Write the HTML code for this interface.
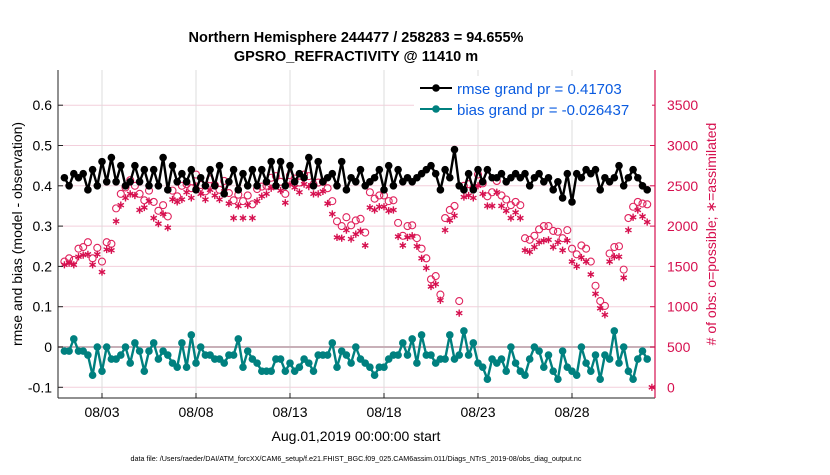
<!DOCTYPE html>
<html><head><meta charset="utf-8">
<style>
body{margin:0;background:#fff;width:830px;height:470px;overflow:hidden;font-family:"Liberation Sans",sans-serif;}
svg text{font-family:"Liberation Sans",sans-serif;}
</style></head>
<body>
<svg id="chart" width="830" height="470" xmlns="http://www.w3.org/2000/svg">
<text x="356" y="42" text-anchor="middle" font-size="14.5" font-weight="bold">Northern Hemisphere 244477 / 258283 = 94.655%</text>
<text x="356" y="61" text-anchor="middle" font-size="14.5" font-weight="bold">GPSRO_REFRACTIVITY @ 11410 m</text>
<g id="grid"></g>
<g id="marks"></g>
<g id="axes"></g>
<text transform="translate(22,234) rotate(-90)" text-anchor="middle" font-size="14">rmse and bias (model - observation)</text>
<text transform="translate(716,234) rotate(-90)" text-anchor="middle" font-size="14" fill="#d6104f"># of obs: o=possible; ∗=assimilated</text>
<text x="356" y="441" text-anchor="middle" font-size="14">Aug.01,2019 00:00:00 start</text>
<text x="356" y="461" text-anchor="middle" font-size="7.2">data file: /Users/raeder/DAI/ATM_forcXX/CAM6_setup/f.e21.FHIST_BGC.f09_025.CAM6assim.011/Diags_NTrS_2019-08/obs_diag_output.nc</text>
<g>
<rect x="414" y="76" width="238" height="44" fill="#fff"/>
<line x1="420" y1="88" x2="452" y2="88" stroke="#000" stroke-width="2"/>
<circle cx="436" cy="88" r="3.8" fill="#000"/>
<text x="457" y="94" font-size="15" fill="#0a5be0">rmse grand pr = 0.41703</text>
<line x1="420" y1="109" x2="452" y2="109" stroke="#00807f" stroke-width="2"/>
<circle cx="436" cy="109" r="3.8" fill="#00807f"/>
<text x="457" y="115" font-size="15" fill="#0a5be0">bias grand pr = -0.026437</text>
</g>
</svg>
<script>
const rmse=[0.42,0.40,0.43,0.42,0.43,0.39,0.44,0.40,0.46,0.41,0.47,0.41,0.45,0.40,0.41,0.45,0.41,0.44,0.40,0.44,0.40,0.47,0.39,0.45,0.41,
0.43,0.41,0.44,0.39,0.42,0.40,0.44,0.40,0.45,0.38,0.41,0.44,0.39,0.43,0.40,0.44,0.40,0.44,0.41,0.46,0.40,0.46,0.40,0.45,0.41,
0.43,0.42,0.47,0.40,0.46,0.41,0.42,0.43,0.40,0.46,0.39,0.42,0.41,0.44,0.40,0.41,0.42,0.44,0.39,0.45,0.40,0.44,0.41,0.42,0.41,
0.42,0.43,0.44,0.45,0.43,0.39,0.44,0.42,0.49,0.40,0.39,0.43,0.39,0.44,0.41,0.44,0.42,0.42,0.43,0.41,0.42,0.43,0.42,0.43,0.40,
0.42,0.43,0.41,0.42,0.39,0.41,0.37,0.43,0.36,0.43,0.42,0.44,0.43,0.44,0.39,0.42,0.41,0.42,0.45,0.40,0.42,0.44,0.42,0.40,0.39];
const bias=[-0.01,-0.01,0.02,-0.01,-0.01,-0.02,-0.07,0.00,-0.06,0.00,-0.03,-0.03,-0.02,0.00,-0.04,0.01,-0.01,-0.06,-0.01,0.01,-0.03,-0.01,-0.02,-0.04,-0.05,
0.01,-0.05,0.03,-0.04,0.00,-0.02,-0.02,-0.03,-0.03,-0.04,-0.02,-0.02,0.02,-0.05,-0.01,-0.03,-0.04,-0.06,-0.06,-0.06,-0.03,-0.03,-0.06,-0.04,-0.06,
-0.05,-0.03,-0.04,-0.06,-0.02,-0.02,-0.02,0.01,-0.05,-0.01,-0.02,-0.04,0.00,-0.03,-0.04,-0.05,-0.07,-0.05,-0.05,-0.03,-0.02,-0.02,0.01,-0.02,0.02,
-0.04,0.03,-0.02,-0.02,-0.04,-0.03,-0.03,0.03,-0.03,-0.02,0.04,-0.02,0.01,-0.04,-0.05,-0.08,-0.03,-0.04,-0.03,-0.06,0.00,-0.04,-0.06,-0.07,-0.03,
0.00,-0.01,-0.05,-0.02,-0.06,-0.08,-0.01,-0.05,-0.06,-0.07,0.00,-0.04,-0.06,-0.02,-0.08,-0.02,-0.03,0.04,-0.04,0.00,-0.06,-0.08,-0.03,-0.01,-0.03];
const possible=[1560,1600,1580,1720,1740,1800,1600,1730,1560,1800,1780,
2220,2400,2480,2570,2500,2400,2320,2440,2300,2190,2260,2120,2440,2370,2500,2520,2470,2640,2510,2430,
2580,2510,2450,2560,2410,2320,2390,2310,2380,2270,2460,2490,2500,2600,2620,2550,2400,2630,2590,2540,
2640,2620,2520,2540,2550,2470,2310,2060,2000,2110,2010,2070,2090,1920,2420,2340,2380,2380,2310,2320,
2040,1880,2000,2010,1850,1720,1600,1340,1380,1150,2100,2200,2250,1070,2500,2520,2470,2640,2530,2370,
2420,2560,2380,2330,2260,2300,2260,1850,1830,1880,1960,2000,2000,1940,1930,1850,1950,1720,1650,1760,
1720,1560,1260,1070,1010,1660,1740,1750,1460,2100,2240,2300,2280,2270];
const assimilated=[1520,1540,1520,1620,1640,1650,1520,1650,1430,1710,1700,
2060,2260,2350,2400,2380,2200,2230,2310,2100,2030,2150,1980,2330,2300,2330,2420,2350,2500,2400,2330,
2450,2380,2330,2430,2280,2100,2250,2100,2260,2100,2310,2370,2400,2470,2500,2440,2290,2520,2480,2420,
2520,2490,2400,2400,2430,2280,2150,1860,1850,1950,1840,1900,1940,1760,2230,2200,2240,2240,2190,2200,
1870,1760,1860,1880,1750,1600,1480,1250,1280,1080,1950,2070,2130,920,2360,2380,2350,2500,2400,2250,
2250,2420,2250,2190,2100,2170,2100,1700,1680,1740,1800,1820,1830,1740,1800,1700,1820,1560,1500,1610,
1560,1400,1160,980,900,1560,1620,1620,1360,1950,2110,2200,2120,2050,0];
const leftTicks=[-0.1,0,0.1,0.2,0.3,0.4,0.5,0.6];
const leftTickLabels=["-0.1","0","0.1","0.2","0.3","0.4","0.5","0.6"];
const rightTicks=[0,500,1000,1500,2000,2500,3000,3500];
const xTickDays=[2,7,12,17,22,27];
const xTickLabels=["08/03","08/08","08/13","08/18","08/23","08/28"];
const stepDays=0.25;

const NS="http://www.w3.org/2000/svg";
const PL=58,PR=655,PT=70,PB=398;
const X=d=>64.4+18.8*d;
const Y=v=>347-v*403;
const YR=n=>Y(n/5000-0.1);
function mk(tag,attrs,parent){const e=document.createElementNS(NS,tag);for(const k in attrs)e.setAttribute(k,attrs[k]);parent.appendChild(e);return e;}
const grid=document.getElementById('grid'),marks=document.getElementById('marks'),axes=document.getElementById('axes');
mk('rect',{x:PL,y:PT,width:PR-PL,height:PB-PT,fill:'#fff'},grid);
rightTicks.forEach(t=>{const l=mk('line',{x1:PL,x2:PR,y1:YR(t),y2:YR(t),stroke:'#f3cfdc','stroke-width':1},grid);

});
xTickDays.forEach(d=>{const l=mk('line',{x1:X(d),x2:X(d),y1:PT,y2:PB,stroke:'#dcdcdc','stroke-width':1},grid);

});
const zl=mk('line',{x1:PL,x2:PR,y1:Y(0),y2:Y(0),stroke:'#c8b0b8','stroke-width':2},grid);


possible.forEach((v,i)=>{if(v==null)return;const c=mk('circle',{cx:X(i*stepDays),cy:YR(v),r:3.5,fill:'none',stroke:'#e0245e','stroke-width':1.1},marks);

});
assimilated.forEach((v,i)=>{if(v==null)return;const x=X(i*stepDays),y=YR(v),s=3.6,h=s*0.866,q=s*0.5;
const d=`M${x},${y-s}L${x},${y+s}M${x-h},${y-q}L${x+h},${y+q}M${x-h},${y+q}L${x+h},${y-q}`;
const p=mk('path',{d:d,stroke:'#d6104f','stroke-width':1.4,fill:'none'},marks);

});
function series(arr,color,name){let d='';arr.forEach((v,i)=>{d+=(i?'L':'M')+X(i*stepDays).toFixed(1)+','+Y(v).toFixed(1);});
const p=mk('path',{d:d,fill:'none',stroke:color,'stroke-width':2.4,'stroke-linejoin':'round'},marks);


arr.forEach((v,i)=>{const c=mk('circle',{cx:X(i*stepDays),cy:Y(v),r:3.8,fill:color},marks);

});}
series(rmse,'#000','rmse');
series(bias,'#00807f','bias');
mk('line',{x1:PL,x2:PL,y1:PT,y2:PB,stroke:'#222','stroke-width':1},axes);
mk('line',{x1:PL,x2:PR,y1:PB,y2:PB,stroke:'#222','stroke-width':1},axes);
mk('line',{x1:PR,x2:PR,y1:PT,y2:PB,stroke:'#d6104f','stroke-width':1.2},axes);
leftTicks.forEach((t,i)=>{mk('line',{x1:PL,x2:PL+5,y1:Y(t),y2:Y(t),stroke:'#222'},axes);
const tx=mk('text',{x:PL-6,y:Y(t)+5,'text-anchor':'end','font-size':14},axes);tx.textContent=leftTickLabels[i];

});
rightTicks.forEach(t=>{mk('line',{x1:PR-5,x2:PR,y1:YR(t),y2:YR(t),stroke:'#d6104f'},axes);
const tx=mk('text',{x:PR+12,y:YR(t)+5,'font-size':14,fill:'#d6104f'},axes);tx.textContent=t;

});
xTickDays.forEach((d,i)=>{mk('line',{x1:X(d),x2:X(d),y1:PB-5,y2:PB,stroke:'#222'},axes);
const tx=mk('text',{x:X(d),y:PB+19,'text-anchor':'middle','font-size':14},axes);tx.textContent=xTickLabels[i];

});
</script>
</body></html>
